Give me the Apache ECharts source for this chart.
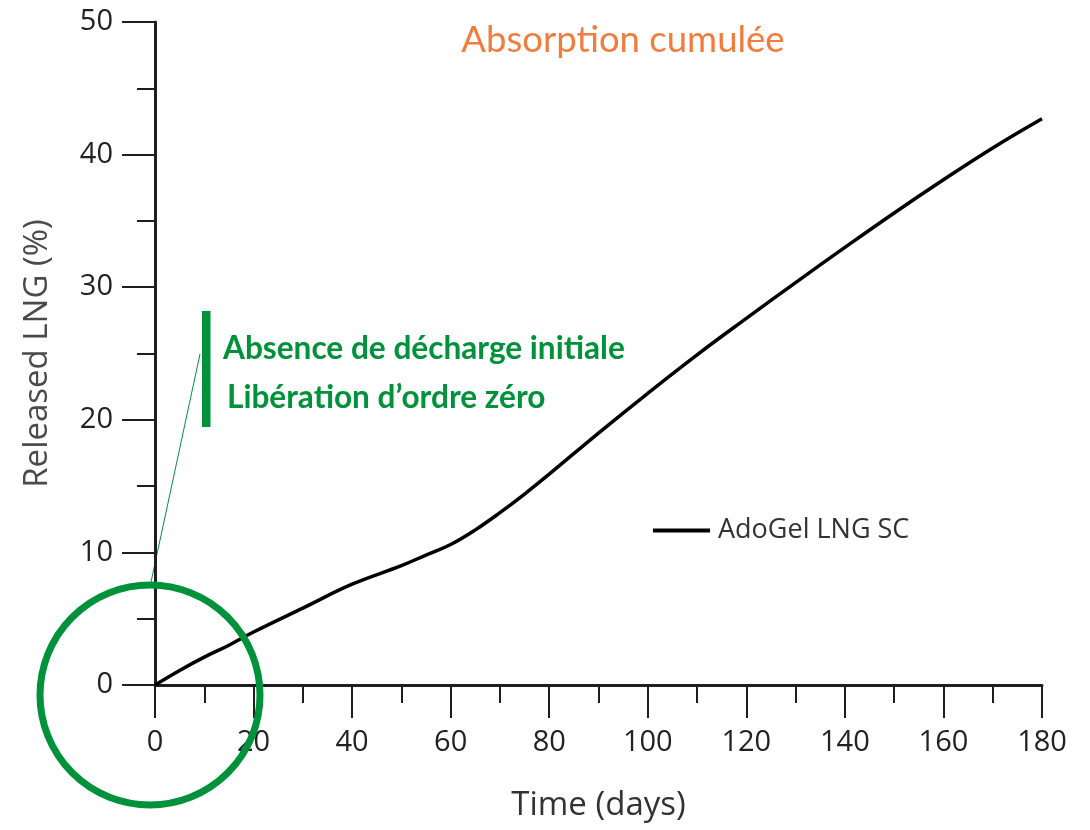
<!DOCTYPE html>
<html>
<head>
<meta charset="utf-8">
<title>Released LNG</title>
<script src="https://cdn.jsdelivr.net/npm/echarts@6/dist/echarts.min.js"></script>
<style>
  html, body { margin: 0; padding: 0; background: #fff; }
  #chart { width: 1090px; height: 830px; }
</style>
</head>
<body>
<div id="chart"></div>
<script>
// Cumulative release of LNG over time (days, % released)
const days = [0, 5, 10, 15, 20, 30, 40, 50, 55, 60, 65, 70, 75, 80, 90, 100, 110, 120, 130, 140, 150, 160, 170, 180];
const released = [0, 1.1, 2.1, 3.0, 4.0, 5.8, 7.6, 9.0, 9.8, 10.6, 11.7, 13.0, 14.4, 15.9, 19.0, 22.0, 24.9, 27.65, 30.35, 33.0, 35.6, 38.1, 40.5, 42.7];
const seriesName = 'AdoGel LNG SC';
const titleText = 'Absorption cumulée';
const noteLines = ['Absence de décharge initiale', 'Libération d’ordre zéro'];

const GREEN = '#00923a';
const AXIS = '#1e1e1e';
const tickFont = 'Open Sans';

const chart = echarts.init(document.getElementById('chart'), null, { renderer: 'canvas' });

const points = days.map((d, i) => [d, released[i]]);

chart.setOption({
  animation: false,
  backgroundColor: '#ffffff',
  grid: { left: 155, right: 48, top: 22, bottom: 145, containLabel: false },
  xAxis: {
    type: 'value',
    min: 0, max: 180, interval: 20,
    name: 'Time (days)',
    nameLocation: 'middle',
    nameGap: 104,
    nameTextStyle: { fontFamily: tickFont, fontSize: 33, color: '#333' },
    axisLine: { show: true, onZero: false, lineStyle: { color: AXIS, width: 3 } },
    axisTick: { show: true, inside: false, length: 33, lineStyle: { color: AXIS, width: 2 } },
    minorTick: { show: true, splitNumber: 2, length: 18, lineStyle: { color: AXIS, width: 2 } },
    axisLabel: { margin: 43, fontFamily: tickFont, fontSize: 29, color: '#222' },
    splitLine: { show: false },
    minorSplitLine: { show: false }
  },
  yAxis: {
    type: 'value',
    min: 0, max: 50, interval: 10,
    name: 'Released LNG (%)',
    nameLocation: 'middle',
    nameGap: 101,
    nameTextStyle: { fontFamily: tickFont, fontSize: 33, color: '#4a4a4a' },
    axisLine: { show: true, onZero: false, lineStyle: { color: AXIS, width: 3 } },
    axisTick: { show: true, inside: false, length: 33, lineStyle: { color: AXIS, width: 2 } },
    minorTick: { show: true, splitNumber: 2, length: 18, lineStyle: { color: AXIS, width: 2 } },
    axisLabel: { margin: 42, fontFamily: tickFont, fontSize: 29, color: '#222' },
    splitLine: { show: false },
    minorSplitLine: { show: false }
  },
  legend: {
    show: true,
    left: 648,
    top: 512,
    icon: 'rect',
    itemWidth: 57,
    itemHeight: 4,
    itemStyle: { color: '#000' },
    textStyle: { fontFamily: tickFont, fontSize: 27, color: '#333', padding: [0, 0, 0, 3] },
    data: [seriesName]
  },
  series: [{
    name: seriesName,
    type: 'line',
    data: points,
    smooth: 0.4,
    symbol: 'none',
    lineStyle: { color: '#000', width: 3.5 },
    itemStyle: { color: '#000' }
  }],
  graphic: [
    {
      type: 'text',
      style: {
        text: titleText,
        x: 623, y: 40,
        align: 'center', verticalAlign: 'middle',
        font: '36.5px Lato',
        fill: '#f07d3e'
      }
    },
    {
      type: 'rect',
      shape: { x: 202, y: 311, width: 8.5, height: 116 },
      style: { fill: GREEN }
    },
    {
      type: 'text',
      style: {
        text: noteLines[0],
        x: 223, y: 349,
        verticalAlign: 'middle',
        font: 'bold 31.6px Lato',
        fill: GREEN
      }
    },
    {
      type: 'text',
      style: {
        text: noteLines[1],
        x: 227, y: 398,
        verticalAlign: 'middle',
        font: 'bold 31.6px Lato',
        fill: GREEN
      }
    },
    {
      type: 'line',
      shape: { x1: 200, y1: 354, x2: 151, y2: 582 },
      style: { stroke: GREEN, lineWidth: 1 }
    },
    {
      type: 'circle',
      shape: { cx: 150, cy: 695, r: 110 },
      style: { fill: 'none', stroke: GREEN, lineWidth: 7 },
      z: 100
    }
  ]
});
</script>
</body>
</html>
